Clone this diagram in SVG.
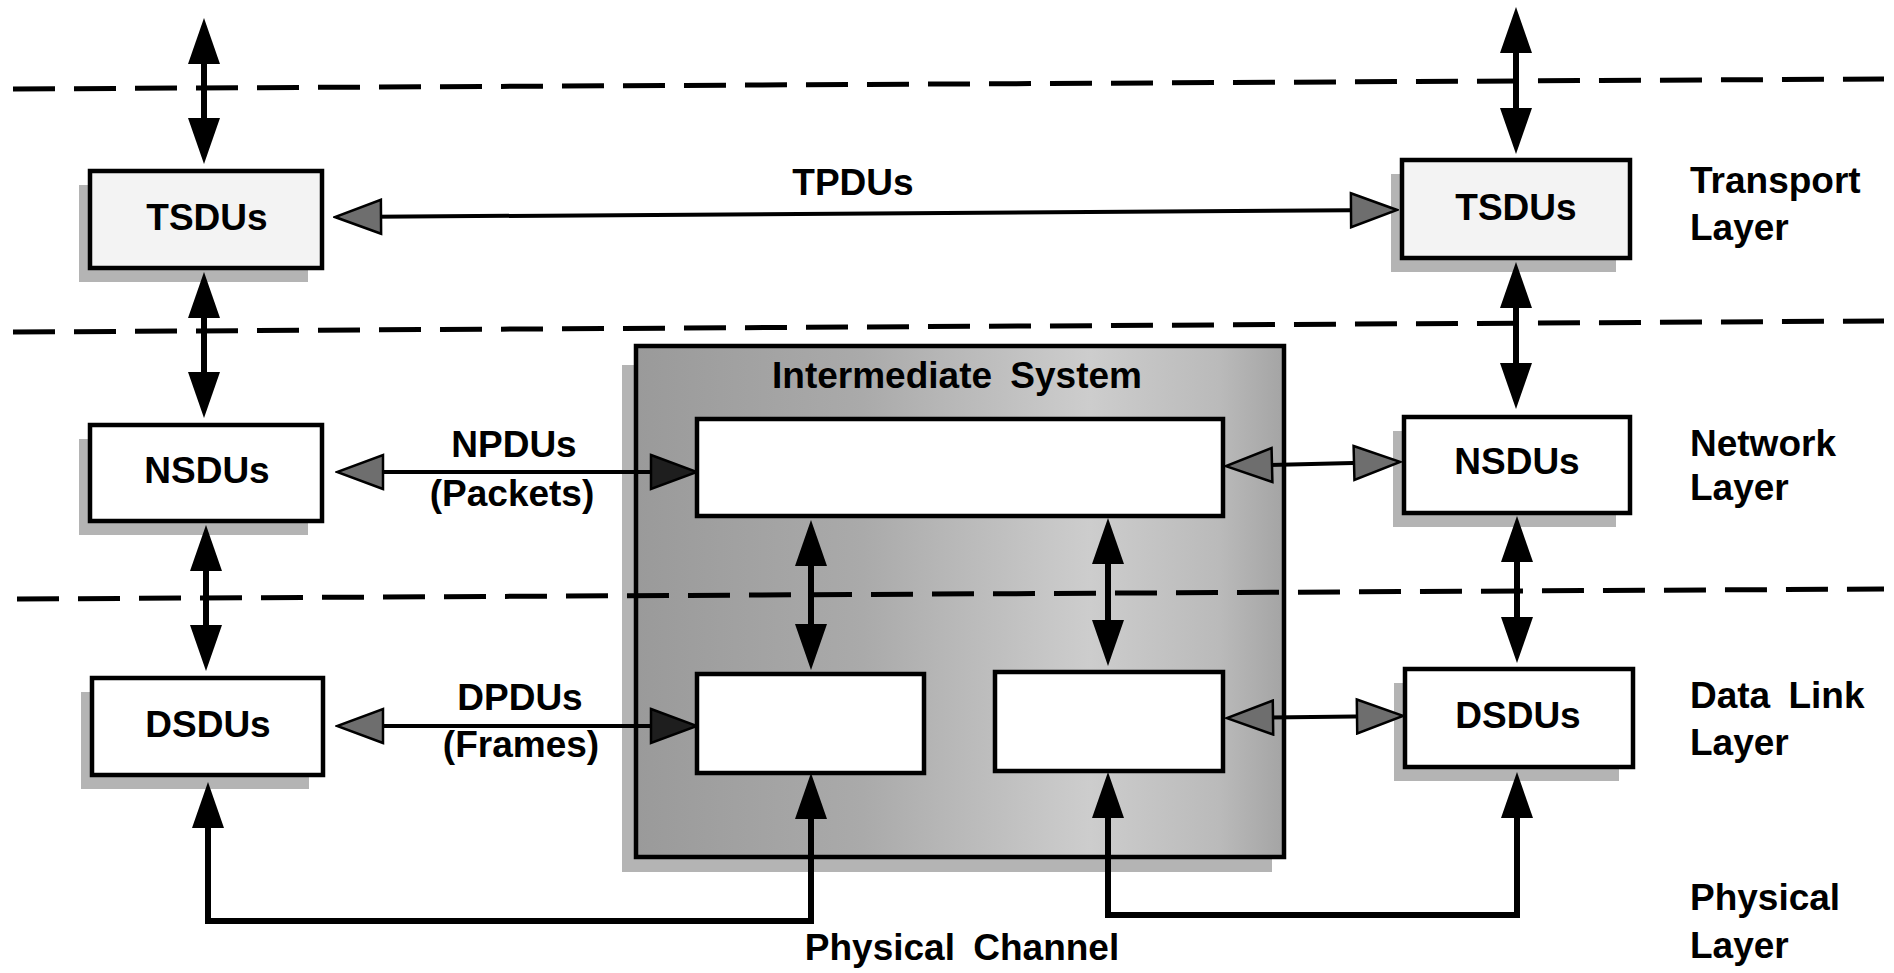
<svg xmlns="http://www.w3.org/2000/svg" width="1894" height="973" viewBox="0 0 1894 973">
<defs>
<style>
.txt{font-family:"Liberation Sans",Arial,sans-serif;font-weight:bold;font-size:37px;fill:#000}
.c{text-anchor:middle}
.box{stroke:#000;stroke-width:4.5}
.shadow{fill:#b4b4b4}
.dash{stroke:#000;stroke-width:5;stroke-dasharray:42 19;fill:none}
.thick{stroke:#000;stroke-width:6;fill:none}
.thin{stroke:#000;stroke-width:4;fill:none}
</style>
<linearGradient id="isfill" x1="0" y1="0" x2="1" y2="0">
<stop offset="0" stop-color="#9a9a9a"/>
<stop offset="0.35" stop-color="#aaaaaa"/>
<stop offset="0.7" stop-color="#cdcdcd"/>
<stop offset="0.9" stop-color="#bababa"/>
<stop offset="1" stop-color="#a4a4a4"/>
</linearGradient>
<marker id="bh" markerUnits="userSpaceOnUse" markerWidth="48" markerHeight="34" viewBox="0 0 48 34" refX="36" refY="17" orient="auto-start-reverse">
<path d="M1,1 L47,17 L1,33 Z" fill="#000"/>
</marker>
<marker id="gh" markerUnits="userSpaceOnUse" markerWidth="50" markerHeight="38" viewBox="0 0 50 38" refX="42" refY="19" orient="auto-start-reverse">
<path d="M2,2 L48,19 L2,36 Z" fill="#6e6e6e" stroke="#000" stroke-width="2.5"/>
</marker>
<marker id="dh" markerUnits="userSpaceOnUse" markerWidth="50" markerHeight="38" viewBox="0 0 50 38" refX="42" refY="19" orient="auto-start-reverse">
<path d="M2,2 L48,19 L2,36 Z" fill="#1e1e1e" stroke="#000" stroke-width="2.5"/>
</marker>
</defs>
<rect width="1894" height="973" fill="#fff"/>

<g id="intermediate-system">
<rect x="622" y="365" width="650" height="507" class="shadow"/>
<rect x="636" y="346" width="648" height="511" fill="url(#isfill)" class="box"/>
<text x="957" y="388" class="txt c" word-spacing="8">Intermediate System</text>
</g>

<g id="layer-lines">
<line x1="13" y1="89" x2="1884" y2="79" class="dash" stroke-width="4.5"/>
<line x1="13" y1="332" x2="1884" y2="321" class="dash"/>
<line x1="17" y1="599" x2="1884" y2="589" class="dash"/>
</g>

<g id="tsdu-left">
<rect x="79" y="185" width="229" height="97" class="shadow"/>
<rect x="90" y="171" width="232" height="97" fill="#f3f3f3" class="box"/>
<text x="207" y="230" class="txt c">TSDUs</text>
</g>
<g id="nsdu-left">
<rect x="79" y="439" width="229" height="96" class="shadow"/>
<rect x="90" y="425" width="232" height="96" fill="#fff" class="box"/>
<text x="207" y="483" class="txt c">NSDUs</text>
</g>
<g id="dsdu-left">
<rect x="81" y="692" width="228" height="97" class="shadow"/>
<rect x="92" y="678" width="231" height="97" fill="#fff" class="box"/>
<text x="208" y="737" class="txt c">DSDUs</text>
</g>

<g id="tsdu-right">
<rect x="1391" y="174" width="225" height="98" class="shadow"/>
<rect x="1402" y="160" width="228" height="98" fill="#f3f3f3" class="box"/>
<text x="1516" y="220" class="txt c">TSDUs</text>
</g>
<g id="nsdu-right">
<rect x="1393" y="431" width="223" height="96" class="shadow"/>
<rect x="1404" y="417" width="226" height="96" fill="#fff" class="box"/>
<text x="1517" y="474" class="txt c">NSDUs</text>
</g>
<g id="dsdu-right">
<rect x="1394" y="683" width="225" height="98" class="shadow"/>
<rect x="1405" y="669" width="228" height="98" fill="#fff" class="box"/>
<text x="1518" y="728" class="txt c">DSDUs</text>
</g>

<g id="is-network">
<rect x="697" y="419" width="526" height="97" fill="#fff" class="box"/>
</g>
<g id="is-datalink-left">
<rect x="697" y="674" width="227" height="99" fill="#fff" class="box"/>
</g>
<g id="is-datalink-right">
<rect x="995" y="672" width="228" height="99" fill="#fff" class="box"/>
</g>

<g id="connectors">
<line x1="204" y1="29" x2="204" y2="153" class="thick" marker-start="url(#bh)" marker-end="url(#bh)"/>
<line x1="204" y1="283" x2="204" y2="407" class="thick" marker-start="url(#bh)" marker-end="url(#bh)"/>
<line x1="206" y1="536" x2="206" y2="660" class="thick" marker-start="url(#bh)" marker-end="url(#bh)"/>
<line x1="1516" y1="18" x2="1516" y2="143" class="thick" marker-start="url(#bh)" marker-end="url(#bh)"/>
<line x1="1516" y1="273" x2="1516" y2="398" class="thick" marker-start="url(#bh)" marker-end="url(#bh)"/>
<line x1="1517" y1="527" x2="1517" y2="652" class="thick" marker-start="url(#bh)" marker-end="url(#bh)"/>
<line x1="811" y1="531" x2="811" y2="659" class="thick" marker-start="url(#bh)" marker-end="url(#bh)"/>
<line x1="1108" y1="529" x2="1108" y2="655" class="thick" marker-start="url(#bh)" marker-end="url(#bh)"/>
<path d="M811,784 L811,921 L208,921 L208,793" class="thick" stroke-width="5" marker-start="url(#bh)" marker-end="url(#bh)"/>
<path d="M1108,783 L1108,915 L1517,915 L1517,783" class="thick" stroke-width="5" marker-start="url(#bh)" marker-end="url(#bh)"/>
<line x1="341" y1="217" x2="1391" y2="210" class="thin" marker-start="url(#gh)" marker-end="url(#gh)"/>
<line x1="343" y1="472" x2="691" y2="472" class="thin" marker-start="url(#gh)" marker-end="url(#dh)"/>
<line x1="1232" y1="466" x2="1394" y2="462" class="thin" marker-start="url(#gh)" marker-end="url(#gh)"/>
<line x1="343" y1="726" x2="691" y2="726" class="thin" marker-start="url(#gh)" marker-end="url(#dh)"/>
<line x1="1233" y1="718" x2="1397" y2="716" class="thin" marker-start="url(#gh)" marker-end="url(#gh)"/>
</g>

<g id="labels">
<text x="853" y="195" class="txt c">TPDUs</text>
<text x="514" y="457" class="txt c">NPDUs</text>
<text x="512" y="506" class="txt c">(Packets)</text>
<text x="520" y="710" class="txt c">DPDUs</text>
<text x="521" y="757" class="txt c">(Frames)</text>
<text x="962" y="960" class="txt c" word-spacing="8">Physical Channel</text>
<text x="1690" y="193" class="txt">Transport</text>
<text x="1690" y="240" class="txt">Layer</text>
<text x="1690" y="456" class="txt">Network</text>
<text x="1690" y="500" class="txt">Layer</text>
<text x="1690" y="708" class="txt" word-spacing="8">Data Link</text>
<text x="1690" y="755" class="txt">Layer</text>
<text x="1690" y="910" class="txt">Physical</text>
<text x="1690" y="958" class="txt">Layer</text>
</g>
</svg>
